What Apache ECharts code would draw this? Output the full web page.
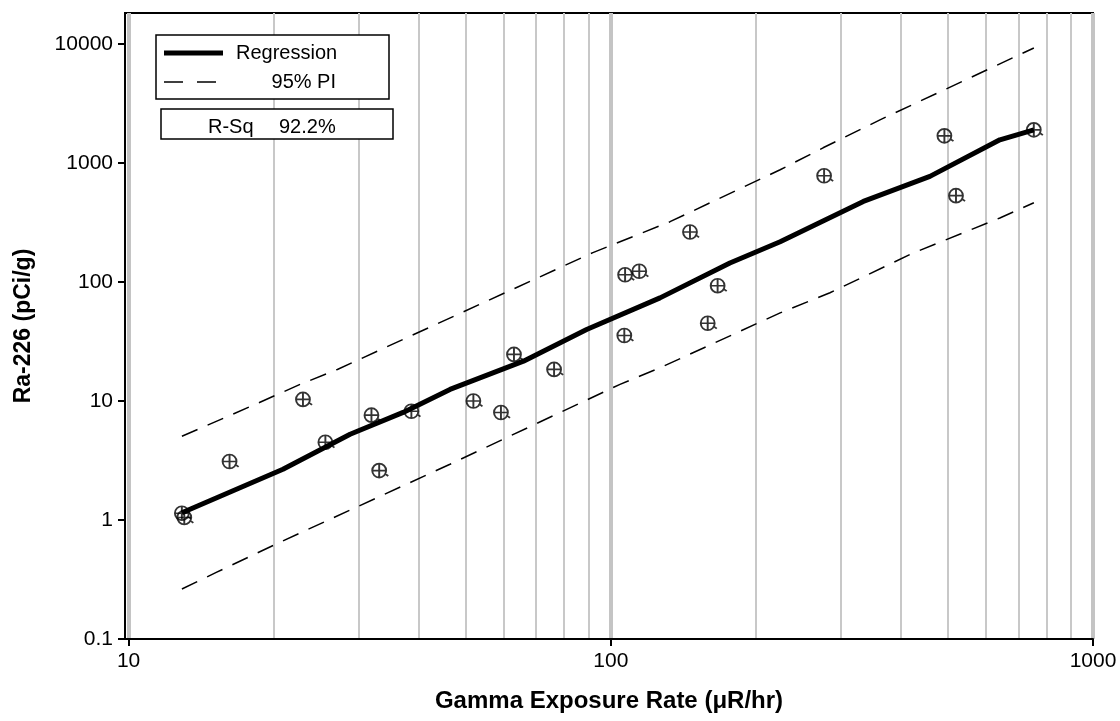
<!DOCTYPE html>
<html>
<head>
<meta charset="utf-8">
<script src="https://cdn.jsdelivr.net/npm/echarts@6/dist/echarts.min.js"></script>
<style>
  html, body { margin: 0; padding: 0; background: #fff; }
  #chart { width: 1120px; height: 721px; }
</style>
</head>
<body>
<div id="chart"></div>
<script>
// measured points: gamma exposure rate (uR/hr) vs Ra-226 (pCi/g)
const gammaX = [12.9, 13.05, 16.2, 23.0, 25.6, 31.9, 38.6, 33.1, 51.9, 59.2, 63.0, 76.3, 107.1, 114.6, 146, 166.6, 158.9, 106.7, 277, 492, 520, 754]
const raY = [1.14, 1.05, 3.1, 10.3, 4.5, 7.6, 8.2, 2.6, 10.0, 8.0, 24.6, 18.4, 115, 123, 263, 93, 45, 35.5, 781, 1690, 531, 1900]

// regression line
const regX = [12.9, 20.9, 28.8, 37.1, 46.4, 65.9, 89.1, 126.5, 176.6, 224.5, 334, 459, 641, 754]
const regY = [1.15, 2.67, 5.25, 8.02, 12.5, 21.6, 39.9, 73.5, 144.5, 218, 475, 771, 1566, 1900]

// 95% prediction interval
const upperX = [12.9, 17.9, 22.7, 27.1, 91.8, 132.7, 224.5, 275.6, 361.6, 754]
const upperY = [5.05, 9.0, 13.8, 18.4, 176.5, 321, 877, 1341, 2303, 9250]
const lowerX = [12.9, 15.2, 20.9, 46.4, 104.5, 126.5, 182.4, 224.5, 284.8, 423.6, 641, 754]
const lowerY = [0.263, 0.363, 0.668, 2.94, 13.8, 19.0, 37.4, 55.0, 81.1, 175, 345, 463]

// ticks and grid lines
const xTicks = [10, 100, 1000]
const xMinorGrid = [20, 30, 40, 50, 60, 70, 80, 90, 200, 300, 400, 500, 600, 700, 800, 900]
const yTicks = [0.1, 1, 10, 100, 1000, 10000]

const pairs = (xs, ys) => xs.map((x, i) => [x, ys[i]])

const FONT = 'Liberation Sans, Arial, sans-serif'
const marker = 'path://M0.5,7 A6.5,6.5 0 1 1 13.5,7 A6.5,6.5 0 1 1 0.5,7 Z M0.5,7 L13.5,7 M7,0.5 L7,13.5 M12,9.5 L15.5,12'

const chart = echarts.init(document.getElementById('chart'))
chart.setOption({
  backgroundColor: '#fff',
  animation: false,
  grid: {
    left: 125,
    right: 27,
    top: 13,
    bottom: 82,
    show: true,
    borderColor: '#000',
    borderWidth: 2,
    backgroundColor: 'transparent'
  },
  xAxis: [
    {
      type: 'log',
      min: 9.83,
      max: 1000,
      position: 'bottom',
      name: 'Gamma Exposure Rate (μR/hr)',
      nameLocation: 'middle',
      nameGap: 50,
      nameTextStyle: { fontFamily: FONT, fontWeight: 'bold', fontSize: 24, color: '#000' },
      axisLine: { lineStyle: { color: '#000', width: 2 } },
      axisTick: { length: 7, customValues: xTicks, lineStyle: { color: '#000', width: 2 } },
      axisLabel: {
        customValues: xTicks,
        margin: 12,
        fontFamily: FONT,
        fontSize: 21,
        color: '#000',
        formatter: v => String(+(+v).toPrecision(6))
      },
      splitLine: { show: true, lineStyle: { color: '#c4c4c4', width: 4 } }
    },
    {
      type: 'log',
      min: 9.83,
      max: 1000,
      position: 'bottom',
      axisLine: { show: false },
      axisTick: { show: false, customValues: xMinorGrid },
      axisLabel: { show: false, customValues: xMinorGrid },
      splitLine: { show: true, lineStyle: { color: '#c8c8c8', width: 2 } }
    }
  ],
  yAxis: {
    type: 'log',
    min: 0.1,
    max: 18200,
    name: 'Ra-226 (pCi/g)',
    nameLocation: 'middle',
    nameGap: 90,
    nameTextStyle: { fontFamily: FONT, fontWeight: 'bold', fontSize: 23, color: '#000' },
    axisLine: { lineStyle: { color: '#000', width: 2 } },
    axisTick: { length: 7, customValues: yTicks, lineStyle: { color: '#000', width: 2 } },
    axisLabel: {
      customValues: yTicks,
      margin: 12,
      fontFamily: FONT,
      fontSize: 21,
      color: '#000',
      formatter: v => String(+(+v).toPrecision(6))
    },
    splitLine: { show: false }
  },
  series: [
    {
      name: 'Regression',
      type: 'line',
      data: pairs(regX, regY),
      symbol: 'none',
      lineStyle: { color: '#000', width: 5 },
      z: 3
    },
    {
      name: '95% PI upper',
      type: 'line',
      data: pairs(upperX, upperY),
      symbol: 'none',
      lineStyle: { color: '#000', width: 1.5, type: [17, 11] },
      z: 3
    },
    {
      name: '95% PI lower',
      type: 'line',
      data: pairs(lowerX, lowerY),
      symbol: 'none',
      lineStyle: { color: '#000', width: 1.5, type: [17, 11] },
      z: 3
    },
    {
      name: 'Data',
      type: 'scatter',
      data: pairs(gammaX, raY),
      symbol: marker,
      symbolSize: [16, 14],
      symbolOffset: [1, 0],
      itemStyle: { color: 'rgba(0,0,0,0)', borderColor: '#000', borderWidth: 1.8 },
      z: 4
    }
  ],
  graphic: [
    {
      type: 'rect',
      shape: { x: 156, y: 35, width: 233, height: 64 },
      style: { fill: '#fff', stroke: '#000', lineWidth: 1.5 },
      z: 10
    },
    {
      type: 'line',
      shape: { x1: 164, y1: 53, x2: 223, y2: 53 },
      style: { stroke: '#000', lineWidth: 5 },
      z: 11
    },
    {
      type: 'text',
      x: 236,
      y: 53,
      style: { text: 'Regression', font: '20px ' + FONT, fill: '#000', verticalAlign: 'middle' },
      z: 11
    },
    {
      type: 'line',
      shape: { x1: 164, y1: 82, x2: 217, y2: 82 },
      style: { stroke: '#000', lineWidth: 1.5, lineDash: [19, 14] },
      z: 11
    },
    {
      type: 'text',
      x: 336,
      y: 82,
      style: { text: '95% PI', font: '20px ' + FONT, fill: '#000', align: 'right', verticalAlign: 'middle' },
      z: 11
    },
    {
      type: 'rect',
      shape: { x: 161, y: 109, width: 232, height: 30 },
      style: { fill: '#fff', stroke: '#000', lineWidth: 1.5 },
      z: 10
    },
    {
      type: 'text',
      x: 208,
      y: 127,
      style: { text: 'R-Sq', font: '20px ' + FONT, fill: '#000', verticalAlign: 'middle' },
      z: 11
    },
    {
      type: 'text',
      x: 279,
      y: 127,
      style: { text: '92.2%', font: '20px ' + FONT, fill: '#000', verticalAlign: 'middle' },
      z: 11
    }
  ]
})
</script>
</body>
</html>
